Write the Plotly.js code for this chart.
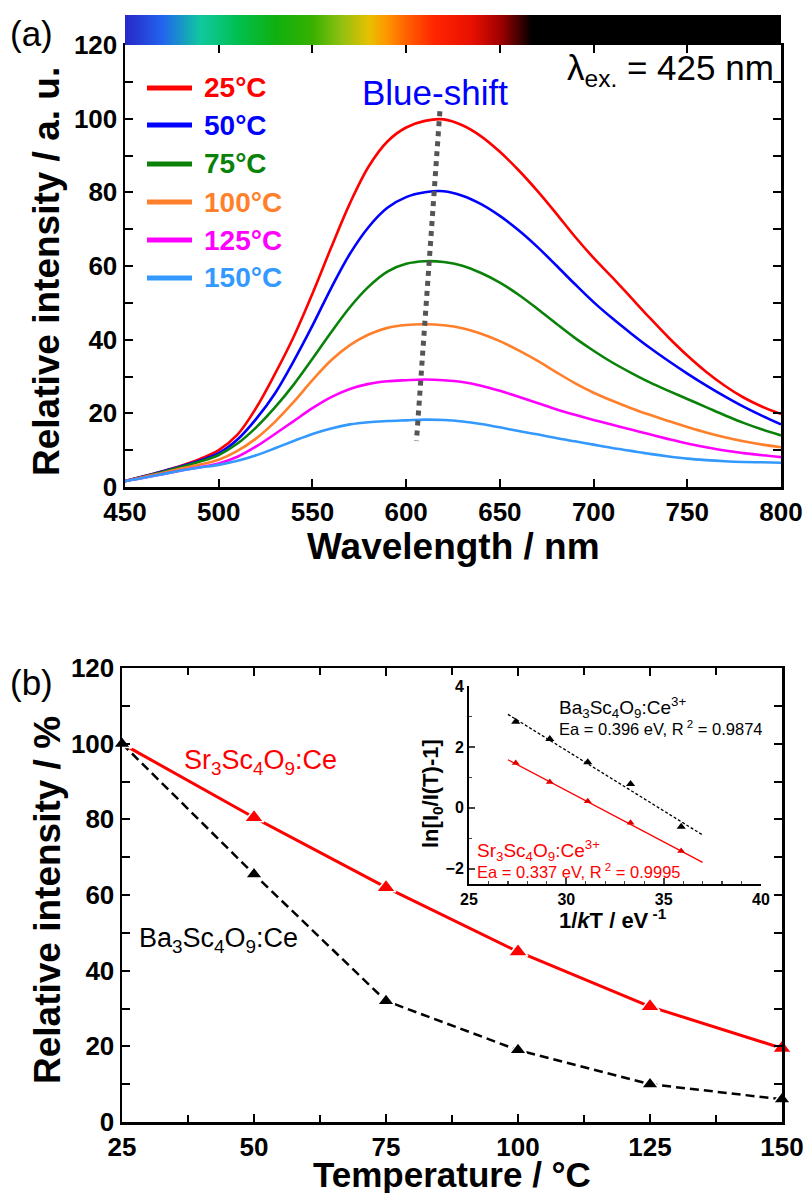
<!DOCTYPE html>
<html><head><meta charset="utf-8">
<script src="https://cdn.plot.ly/plotly-3.0.1.min.js"></script>
<style>body{margin:0;background:#fff}</style>
</head><body><div id="chart" style="width:810px;height:1193px"></div>
<script>
// ---------- Panel (a) data ----------
const wavelengths = [450,460,470,480,490,500,510,520,530,540,550,560,570,580,590,600,610,620,630,640,650,660,670,680,690,700,710,720,730,740,750,760,770,780,790,800];
const tempLabels = ['25°C','50°C','75°C','100°C','125°C','150°C'];
const spectraColors = ['#ff0000','#0000ff','#0a820a','#ff7f2a','#ff00ff','#3399ff'];
const spec25  = [1.6,2.9,4.3,5.8,7.6,10.0,14.2,21.5,30.7,40.8,52.5,65.0,77.0,87.0,93.8,97.6,99.4,99.8,98.2,95.2,91.0,86.0,80.4,74.3,68.0,62.2,56.9,51.4,45.9,40.6,35.7,31.3,27.5,24.3,21.8,19.8];
const spec50  = [1.6,2.9,4.2,5.6,7.2,9.2,12.9,18.5,25.4,34.2,43.8,54.0,63.3,70.6,75.8,78.7,80.0,80.3,79.1,76.8,73.6,69.7,65.2,60.2,55.1,50.2,45.8,41.7,37.8,34.2,30.8,27.6,24.6,21.8,19.3,17.0];
const spec75  = [1.6,2.8,4.1,5.4,6.9,8.7,11.8,16.2,21.6,27.8,34.8,42.0,48.8,54.4,58.5,60.6,61.3,61.1,60.1,58.1,55.5,52.2,48.4,44.4,40.5,37.0,33.8,31.0,28.4,26.1,23.9,21.7,19.5,17.4,15.6,14.0];
const spec100 = [1.6,2.7,3.8,5.0,6.1,7.4,9.8,13.2,17.7,23.1,29.0,34.4,38.5,41.4,43.2,44.0,44.2,43.9,43.1,41.6,39.6,37.1,34.3,31.2,28.2,25.6,23.4,21.4,19.6,17.9,16.3,14.8,13.5,12.4,11.5,10.8];
const spec125 = [1.6,2.5,3.5,4.5,5.4,6.4,8.2,11.0,14.4,17.9,21.4,24.4,26.6,28.0,28.7,29.0,29.2,29.0,28.5,27.5,26.1,24.5,22.8,21.1,19.6,18.2,16.9,15.6,14.3,13.0,11.8,10.8,9.9,9.2,8.6,8.1];
const spec150 = [1.6,2.5,3.5,4.5,5.3,6.0,7.1,8.6,10.5,12.5,14.4,15.9,17.0,17.6,17.9,18.1,18.3,18.2,17.8,17.1,16.2,15.2,14.3,13.3,12.4,11.5,10.6,9.8,9.0,8.3,7.7,7.3,7.0,6.8,6.7,6.6];
const spectra = [spec25, spec50, spec75, spec100, spec125, spec150];
const blueShiftX = [618, 605.5];
const blueShiftY = [102, 12.5];
const spectrumColorscale = [[0,'#2828c8'],[0.057,'#2264ee'],[0.114,'#10c8a0'],[0.171,'#00c050'],[0.229,'#10b010'],[0.286,'#38b000'],[0.329,'#90c010'],[0.371,'#e8c000'],[0.4,'#ff9400'],[0.429,'#ff6000'],[0.471,'#ff2400'],[0.529,'#e81000'],[0.571,'#a00000'],[0.6,'#400000'],[0.62,'#000000'],[1,'#000000']];

// ---------- Panel (b) data ----------
const temperatures = [25,50,75,100,125,150];
const srIntensity = [100,80.5,62,45,30.5,19.5];
const baIntensity = [100,65.5,32,19,10,6];
// inset
const invkT = [35.9,33.3,31.1,29.15,27.4];
const baLn = [-0.62,0.78,1.50,2.26,2.83];
const srLn = [-1.42,-0.49,0.22,0.85,1.47];
const fitX = [27,37];
const baFit = [3.07,-0.89];
const srFit = [1.58,-1.79];

// ---------- helpers ----------
const W = 810, H = 1193;
const px = x => x / W;
const py = y => 1 - y / H;
const FONT = 'Liberation Sans, Arial, Helvetica, sans-serif';

const traces = [];
traces.push({type:'heatmap', x:wavelengths, y:[0,1], z:[wavelengths, wavelengths],
  colorscale: spectrumColorscale, zmin:450, zmax:800, zsmooth:'best', showscale:false,
  hoverinfo:'skip', xaxis:'x4', yaxis:'y4'});
spectra.forEach((s,i) => traces.push({type:'scatter', mode:'lines', x:wavelengths, y:s,
  line:{color:spectraColors[i], width:2.6, shape:'spline', smoothing:1}, showlegend:false,
  name:tempLabels[i], xaxis:'x', yaxis:'y'}));
traces.push({type:'scatter', mode:'lines', x:blueShiftX, y:blueShiftY,
  line:{color:'#555555', width:5, dash:'dot'}, showlegend:false, xaxis:'x', yaxis:'y'});
traces.push({type:'scatter', mode:'lines+markers', x:temperatures, y:srIntensity, cliponaxis:false,
  line:{color:'#ff0000', width:3}, marker:{symbol:'triangle-up', size:17, color:'#ff0000', line:{color:'#ffffff', width:1.5}},
  showlegend:false, xaxis:'x2', yaxis:'y2'});
traces.push({type:'scatter', mode:'lines+markers', x:temperatures, y:baIntensity, cliponaxis:false,
  line:{color:'#000000', width:2.5, dash:'9px,5px'}, marker:{symbol:'triangle-up', size:15, color:'#000000', line:{color:'#ffffff', width:1.5}},
  showlegend:false, xaxis:'x2', yaxis:'y2'});
traces.push({type:'scatter', mode:'lines', x:fitX, y:baFit, line:{color:'#000000', width:1.3, dash:'3px,2px'}, showlegend:false, xaxis:'x3', yaxis:'y3'});
traces.push({type:'scatter', mode:'lines', x:fitX, y:srFit, line:{color:'#ff0000', width:1.3}, showlegend:false, xaxis:'x3', yaxis:'y3'});
traces.push({type:'scatter', mode:'markers', x:invkT, y:baLn, marker:{symbol:'triangle-up', size:8, color:'#000000'}, showlegend:false, xaxis:'x3', yaxis:'y3'});
traces.push({type:'scatter', mode:'markers', x:invkT, y:srLn, marker:{symbol:'triangle-up', size:7, color:'#dd0000'}, showlegend:false, xaxis:'x3', yaxis:'y3'});

const tickFontBig = {family:FONT, size:26, color:'#000', weight:'bold'};
const tickFontSmall = {family:FONT, size:16, color:'#000', weight:'bold'};
function mainAxis(extra){
  return Object.assign({ticks:'inside', ticklen:8, tickwidth:2, tickcolor:'#000', showline:true, linewidth:2.5, linecolor:'#000',
    mirror:'ticks', showgrid:false, zeroline:false, tickfont:tickFontBig, fixedrange:true}, extra);
}

const layout = {
  width:W, height:H, margin:{l:0,r:0,t:0,b:0}, paper_bgcolor:'#fff', plot_bgcolor:'rgba(0,0,0,0)',
  font:{family:FONT, color:'#000'}, showlegend:false,
  xaxis: mainAxis({domain:[px(125),px(781)], anchor:'y', range:[450,800], tick0:450, dtick:50}),
  yaxis: mainAxis({domain:[py(487),py(45)], anchor:'x', range:[0,120], tick0:0, dtick:20,
    minor:{dtick:10, ticks:'inside', ticklen:8, tickwidth:2, tickcolor:'#000'}}),
  xaxis2: mainAxis({domain:[px(122),px(782)], anchor:'y2', range:[25,150], tick0:25, dtick:25,
    minor:{dtick:12.5, ticks:'inside', ticklen:7, tickwidth:2, tickcolor:'#000'}}),
  yaxis2: mainAxis({domain:[py(1122),py(668)], anchor:'x2', range:[0,120], tick0:0, dtick:20,
    minor:{dtick:10, ticks:'inside', ticklen:8, tickwidth:2, tickcolor:'#000'}}),
  xaxis3: {domain:[px(469),px(761)], anchor:'y3', range:[25,40], tick0:25, dtick:5, ticks:'inside', ticklen:6, tickwidth:1.8,
    minor:{dtick:1, ticks:'inside', ticklen:3, tickwidth:1.2}, showline:true, linewidth:2, linecolor:'#000',
    showgrid:false, zeroline:false, tickfont:tickFontSmall, fixedrange:true},
  yaxis3: {domain:[py(884),py(686)], anchor:'x3', range:[-2.5,4], tick0:0, dtick:2, ticks:'inside', ticklen:6, tickwidth:1.8,
    minor:{dtick:1, ticks:'inside', ticklen:3, tickwidth:1.2}, showline:true, linewidth:2, linecolor:'#000',
    showgrid:false, zeroline:false, tickfont:tickFontSmall, fixedrange:true},
  xaxis4: {domain:[px(125),px(781)], anchor:'y4', range:[450,800], visible:false, fixedrange:true},
  yaxis4: {domain:[py(45),py(15)], anchor:'x4', range:[0,1], visible:false, fixedrange:true},
  shapes: [], annotations: []
};

const ann = (text, x, y, o) => layout.annotations.push(Object.assign({text, x:px(x), y:py(y), xref:'paper', yref:'paper',
  showarrow:false, xanchor:'center', yanchor:'middle', font:{family:FONT, size:20, color:'#000'}}, o||{}));

ann('(a)', 8, 34, {xanchor:'left', font:{family:FONT, size:35, color:'#000'}});
ann('(b)', 8, 682, {xanchor:'left', font:{family:FONT, size:35, color:'#000'}});
ann('<b>Relative intensity / a. u.</b>', 47, 272, {textangle:-90, font:{family:FONT, size:37, color:'#000'}});
ann('<b>Wavelength / nm</b>', 453, 546, {font:{family:FONT, size:37, color:'#000'}});
ann('<b>Relative intensity / %</b>', 47, 900, {textangle:-90, font:{family:FONT, size:37, color:'#000'}});
ann('<b>Temperature / °C</b>', 452, 1174, {font:{family:FONT, size:35, color:'#000'}});
ann('Blue-shift', 435, 92, {font:{family:FONT, size:35, color:'#0000ff'}});
ann('λ<sub>ex.</sub> = 425 nm', 776, 70, {xanchor:'right', font:{family:FONT, size:35, color:'#000'}});

const legendRows = [88,125,164,202,240,278];
tempLabels.forEach((t,i) => {
  layout.shapes.push({type:'line', xref:'paper', yref:'paper', x0:px(147), x1:px(192), y0:py(legendRows[i]), y1:py(legendRows[i]),
    line:{color:spectraColors[i], width:5}});
  ann('<b>'+t+'</b>', 202, legendRows[i], {xanchor:'left', font:{family:FONT, size:28, color:spectraColors[i]}});
});

ann('Sr<sub>3</sub>Sc<sub>4</sub>O<sub>9</sub>:Ce', 182, 762, {xanchor:'left', font:{family:FONT, size:27, color:'#ff0000'}});
ann('Ba<sub>3</sub>Sc<sub>4</sub>O<sub>9</sub>:Ce', 137, 940, {xanchor:'left', font:{family:FONT, size:27, color:'#000'}});

ann('Ba<sub>3</sub>Sc<sub>4</sub>O<sub>9</sub>:Ce<sup>3+</sup>', 557, 707, {xanchor:'left', font:{family:FONT, size:19, color:'#000'}});
ann('Ea = 0.396 eV, R<sup> 2</sup> = 0.9874', 557, 728, {xanchor:'left', font:{family:FONT, size:16.5, color:'#000'}});
ann('Sr<sub>3</sub>Sc<sub>4</sub>O<sub>9</sub>:Ce<sup>3+</sup>', 475, 850, {xanchor:'left', font:{family:FONT, size:19, color:'#ff0000'}});
ann('Ea = 0.337 eV, R<sup> 2</sup> = 0.9995', 475, 871, {xanchor:'left', font:{family:FONT, size:16.5, color:'#ff0000'}});
ann('<b>ln[I<sub>0</sub>/I(T)-1]</b>', 432, 794, {textangle:-90, font:{family:FONT, size:22, color:'#000'}});
ann('<b>1/<i>k</i>T / eV<sup> -1</sup></b>', 613, 919, {font:{family:FONT, size:22, color:'#000'}});

Plotly.newPlot('chart', traces, layout, {displayModeBar:false, staticPlot:true});
</script></body></html>
